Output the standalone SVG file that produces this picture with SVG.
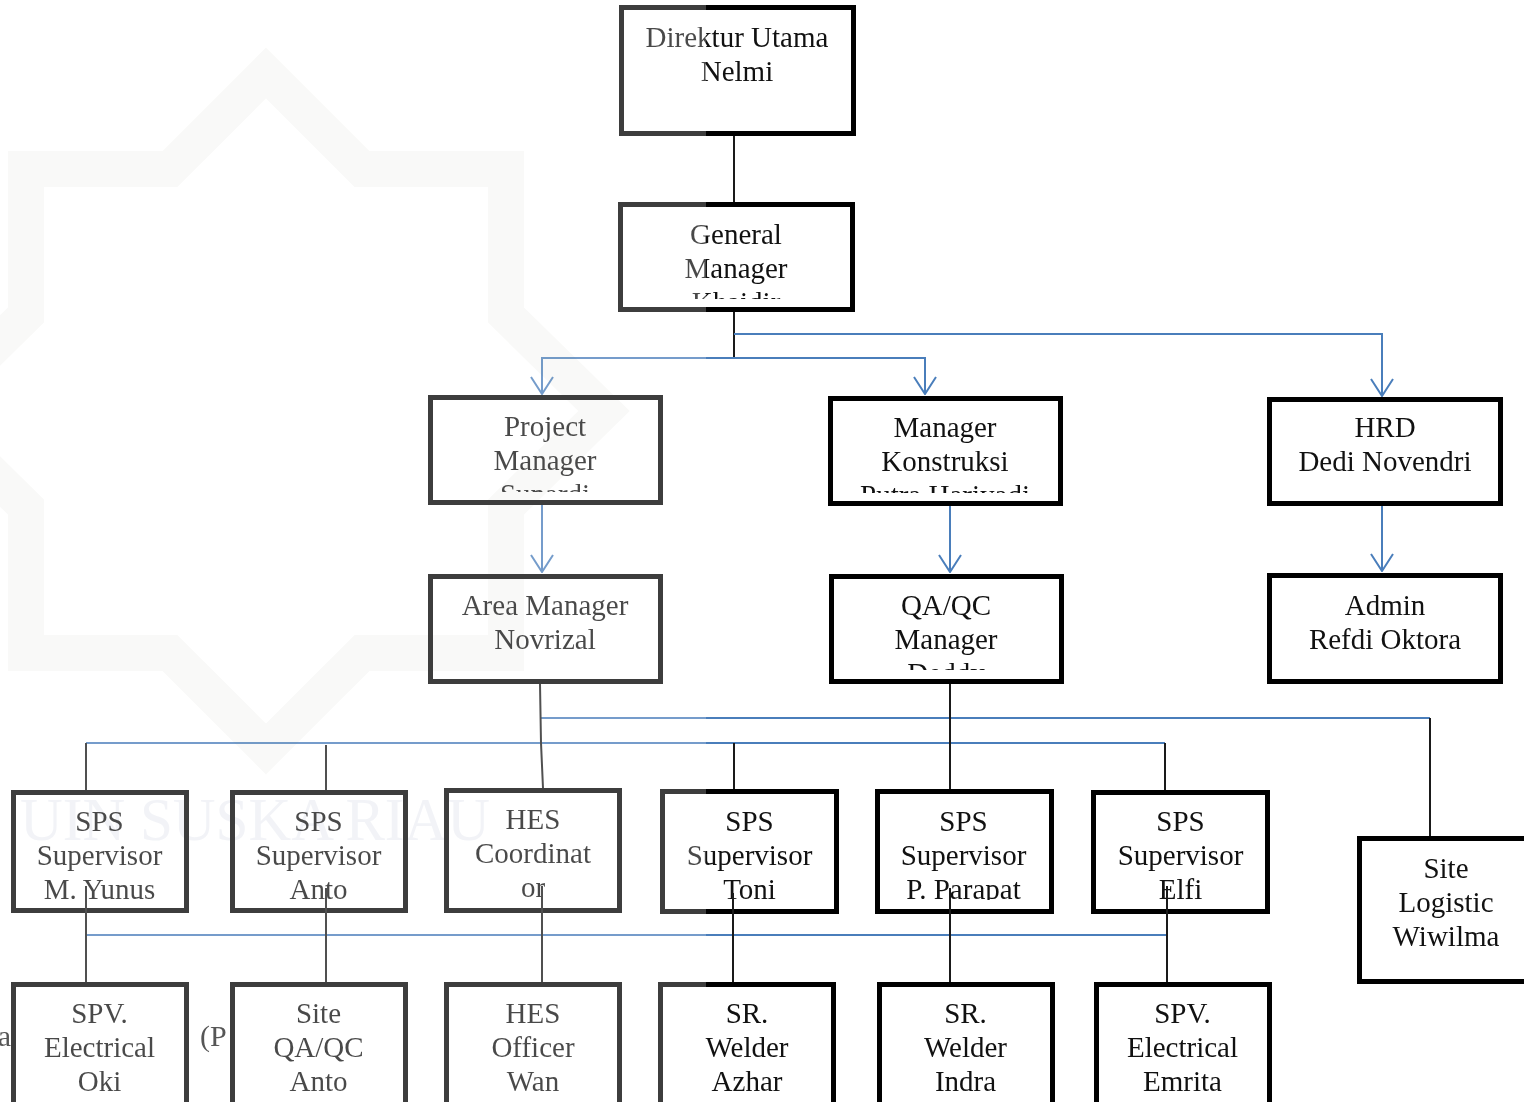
<svg xmlns="http://www.w3.org/2000/svg" width="1524" height="1102" viewBox="0 0 1524 1102">
<style>
.box{fill:#fff;stroke:#000;stroke-width:5}
.t{font-family:"Liberation Serif","Times New Roman",serif;font-size:29px;fill:#111;text-anchor:middle}
.cap{font-family:"Liberation Serif","Times New Roman",serif;font-size:30px;fill:#222}
.blue{stroke:#4a7ebb;stroke-width:2;fill:none}
.blk{stroke:#1a1a1a;stroke-width:2;fill:none}
.wm{fill:none;stroke:#f8f8f6;stroke-width:36;stroke-linejoin:miter;mix-blend-mode:multiply}
.wmt{font-family:"Liberation Serif","Times New Roman",serif;font-size:62px;fill:#eef0f5;mix-blend-mode:multiply}
</style>
<defs>
<marker id="arr" viewBox="0 0 20 24" refX="19" refY="12" markerWidth="20" markerHeight="24" markerUnits="userSpaceOnUse" orient="auto">
<path d="M2,1 L19,12 L2,23" fill="none" stroke="#4a7ebb" stroke-width="2"/>
</marker>
<clipPath id="c-gm"><rect x="623" y="207" width="227" height="92"/></clipPath>
<clipPath id="c-pm"><rect x="433" y="400" width="225" height="92"/></clipPath>
<clipPath id="c-mk"><rect x="833" y="401" width="225" height="92"/></clipPath>
<clipPath id="c-qa"><rect x="834" y="579" width="225" height="91"/></clipPath>
<clipPath id="c-r4"><rect x="0" y="790" width="1524" height="110"/></clipPath>
</defs>
<rect width="1524" height="1102" fill="#fff"/>

<g id="caption">
<text class="cap" x="11" y="1046" text-anchor="end">ra</text>
<text class="cap" x="200" y="1046">(P</text>
</g>

<g id="n-direktur">
<rect class="box" x="621.5" y="7.5" width="232" height="126"/>
<text class="t" x="737" y="47">Direktur Utama</text>
<text class="t" x="737" y="81">Nelmi</text>
</g>
<g id="n-gm">
<rect class="box" x="620.5" y="204.5" width="232" height="105"/>
<g clip-path="url(#c-gm)">
<text class="t" x="736" y="244">General</text>
<text class="t" x="736" y="278">Manager</text>
<text class="t" x="736" y="312">Khaidir</text>
</g>
</g>
<g id="n-pm">
<rect class="box" x="430.5" y="397.5" width="230" height="105"/>
<g clip-path="url(#c-pm)">
<text class="t" x="545" y="436">Project</text>
<text class="t" x="545" y="470">Manager</text>
<text class="t" x="545" y="504">Sunardi</text>
</g>
</g>
<g id="n-mk">
<rect class="box" x="830.5" y="398.5" width="230" height="105"/>
<g clip-path="url(#c-mk)">
<text class="t" x="945" y="437">Manager</text>
<text class="t" x="945" y="471">Konstruksi</text>
<text class="t" x="945" y="505">Putra Hariyadi</text>
</g>
</g>
<g id="n-hrd">
<rect class="box" x="1269.5" y="399.5" width="231" height="104"/>
<text class="t" x="1385" y="437">HRD</text>
<text class="t" x="1385" y="471">Dedi Novendri</text>
</g>
<g id="n-am">
<rect class="box" x="430.5" y="576.5" width="230" height="105"/>
<text class="t" x="545" y="615">Area Manager</text>
<text class="t" x="545" y="649">Novrizal</text>
</g>
<g id="n-qa">
<rect class="box" x="831.5" y="576.5" width="230" height="105"/>
<g clip-path="url(#c-qa)">
<text class="t" x="946" y="615">QA/QC</text>
<text class="t" x="946" y="649">Manager</text>
<text class="t" x="946" y="683">Deddy</text>
</g>
</g>
<g id="n-admin">
<rect class="box" x="1269.5" y="575.5" width="231" height="106"/>
<text class="t" x="1385" y="615">Admin</text>
<text class="t" x="1385" y="649">Refdi Oktora</text>
</g>

<g id="n-yunus">
<rect class="box" x="13.5" y="792.5" width="173" height="118"/>
<g clip-path="url(#c-r4)">
<text class="t" x="99.5" y="831">SPS</text>
<text class="t" x="99.5" y="865">Supervisor</text>
<text class="t" x="99.5" y="899">M. Yunus</text>
</g>
</g>
<g id="n-anto">
<rect class="box" x="232.5" y="792.5" width="173" height="118"/>
<g clip-path="url(#c-r4)">
<text class="t" x="318.5" y="831">SPS</text>
<text class="t" x="318.5" y="865">Supervisor</text>
<text class="t" x="318.5" y="899">Anto</text>
</g>
</g>
<g id="n-hesc">
<rect class="box" x="446.5" y="790.5" width="173" height="120"/>
<g clip-path="url(#c-r4)">
<text class="t" x="533" y="829">HES</text>
<text class="t" x="533" y="863">Coordinat</text>
<text class="t" x="533" y="897">or</text>
</g>
</g>
<g id="n-toni">
<rect class="box" x="662.5" y="791.5" width="174" height="120"/>
<g clip-path="url(#c-r4)">
<text class="t" x="749.5" y="831">SPS</text>
<text class="t" x="749.5" y="865">Supervisor</text>
<text class="t" x="749.5" y="899">Toni</text>
</g>
</g>
<g id="n-parapat">
<rect class="box" x="877.5" y="791.5" width="174" height="120"/>
<g clip-path="url(#c-r4)">
<text class="t" x="963.5" y="831">SPS</text>
<text class="t" x="963.5" y="865">Supervisor</text>
<text class="t" x="963.5" y="899">P. Parapat</text>
</g>
</g>
<g id="n-elfi">
<rect class="box" x="1093.5" y="792.5" width="174" height="119"/>
<g clip-path="url(#c-r4)">
<text class="t" x="1180.5" y="831">SPS</text>
<text class="t" x="1180.5" y="865">Supervisor</text>
<text class="t" x="1180.5" y="899">Elfi</text>
</g>
</g>
<g id="n-site">
<rect class="box" x="1359.5" y="838.5" width="173" height="143"/>
<text class="t" x="1446" y="878">Site</text>
<text class="t" x="1446" y="912">Logistic</text>
<text class="t" x="1446" y="946">Wiwilma</text>
</g>

<g id="n-oki">
<rect class="box" x="13.5" y="984.5" width="173" height="130"/>
<text class="t" x="99.5" y="1023">SPV.</text>
<text class="t" x="99.5" y="1057">Electrical</text>
<text class="t" x="99.5" y="1091">Oki</text>
</g>
<g id="n-anto2">
<rect class="box" x="232.5" y="984.5" width="173" height="130"/>
<text class="t" x="318.5" y="1023">Site</text>
<text class="t" x="318.5" y="1057">QA/QC</text>
<text class="t" x="318.5" y="1091">Anto</text>
</g>
<g id="n-wan">
<rect class="box" x="446.5" y="984.5" width="173" height="130"/>
<text class="t" x="533" y="1023">HES</text>
<text class="t" x="533" y="1057">Officer</text>
<text class="t" x="533" y="1091">Wan</text>
</g>
<g id="n-azhar">
<rect class="box" x="660.5" y="984.5" width="173" height="130"/>
<text class="t" x="747" y="1023">SR.</text>
<text class="t" x="747" y="1057">Welder</text>
<text class="t" x="747" y="1091">Azhar</text>
</g>
<g id="n-indra">
<rect class="box" x="879.5" y="984.5" width="173" height="130"/>
<text class="t" x="965.5" y="1023">SR.</text>
<text class="t" x="965.5" y="1057">Welder</text>
<text class="t" x="965.5" y="1091">Indra</text>
</g>
<g id="n-emrita">
<rect class="box" x="1096.5" y="984.5" width="173" height="130"/>
<text class="t" x="1182.5" y="1023">SPV.</text>
<text class="t" x="1182.5" y="1057">Electrical</text>
<text class="t" x="1182.5" y="1091">Emrita</text>
</g>

<g id="connectors">
<path class="blk" d="M734,136 V202"/>
<path class="blk" d="M734,312 V358"/>
<path class="blue" d="M734,334 H1382 V396" marker-end="url(#arr)"/>
<path class="blue" d="M734,358 H542 V394" marker-end="url(#arr)"/>
<path class="blue" d="M734,358 H925 V394" marker-end="url(#arr)"/>
<path class="blue" d="M542,505 V572" marker-end="url(#arr)"/>
<path class="blue" d="M950,506 V572" marker-end="url(#arr)"/>
<path class="blue" d="M1382,506 V571" marker-end="url(#arr)"/>
<path class="blue" d="M540,718 H1430"/>
<path class="blue" d="M86,743 H1165"/>
<path class="blk" d="M540,684 L541,743 L543,788"/>
<path class="blk" d="M1430,718 V836"/>
<path class="blk" d="M950,684 V789"/>
<path class="blk" d="M86,743 V790"/>
<path class="blk" d="M326,745 V790"/>
<path class="blk" d="M734,743 V789"/>
<path class="blk" d="M1165,743 V790"/>
<path class="blue" d="M86,935 H1167"/>
<path class="blk" d="M86,886 V982"/>
<path class="blk" d="M326,888 V982"/>
<path class="blk" d="M542,886 V982"/>
<path class="blk" d="M733,893 V982"/>
<path class="blk" d="M950,888 V982"/>
<path class="blk" d="M1167,886 V982"/>
</g>

<g id="watermark">
<polygon class="wm" points="266,73 362,169 506,169 506,315 604,411 506,507 506,653 362,653 266,749 170,653 26,653 26,507 -72,411 26,315 26,169 170,169"/>
<text class="wmt" x="20" y="840" textLength="470" lengthAdjust="spacingAndGlyphs">UIN SUSKA RIAU</text>
</g>
<rect x="0" y="0" width="706" height="1102" fill="#fff" opacity="0.24"/>
</svg>
